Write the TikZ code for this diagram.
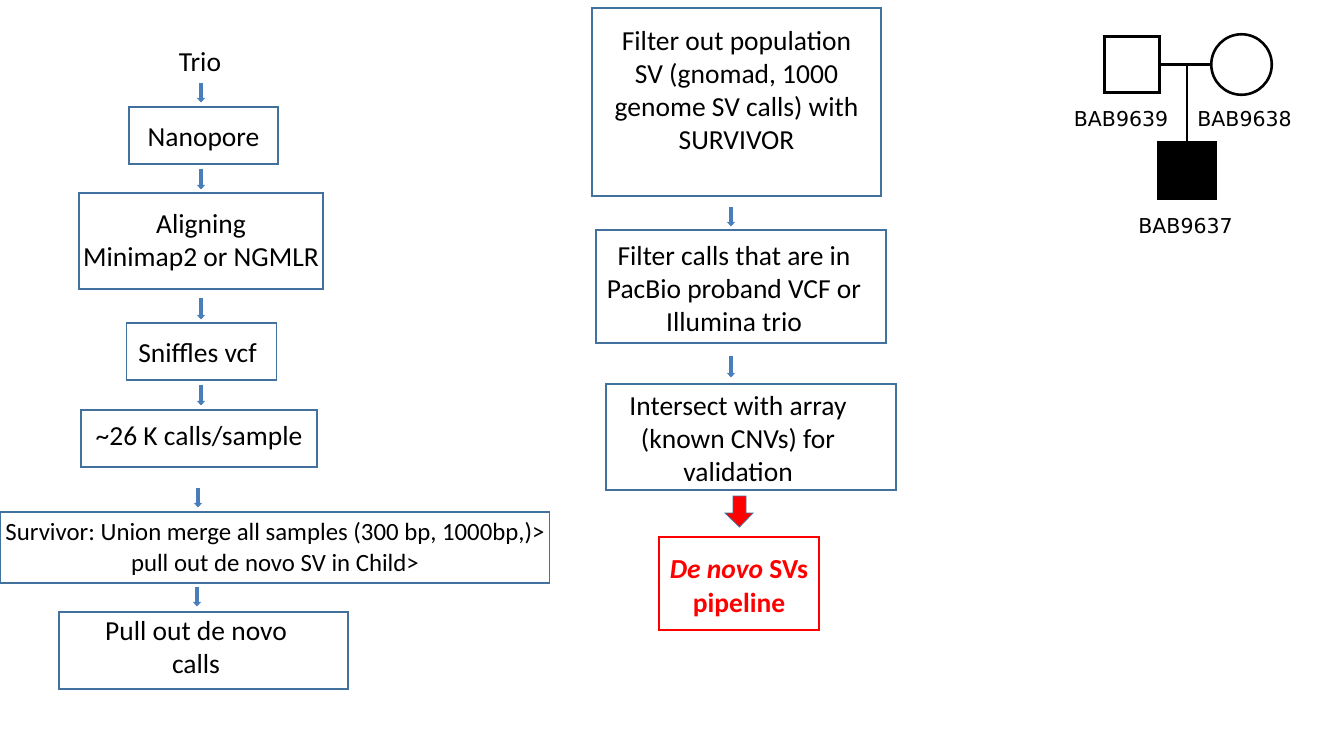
\documentclass[tikz,border=0pt]{standalone}
\usepackage{fontspec}
\setmainfont{Carlito}
\newfontfamily\pedfont{DejaVu Sans}
\usetikzlibrary{arrows.meta}
\definecolor{boxblue}{RGB}{65,113,156}
\definecolor{arrblue}{RGB}{74,126,187}
\definecolor{pptred}{RGB}{255,0,0}
\frenchspacing
% #1 right padding, #2 downward shift, #3 lines
\newcommand{\boxtext}[3]{\raisebox{-#2}[\height][\depth]{\begin{tabular}{@{}c@{\hspace{#1}}}#3\end{tabular}}}
\begin{document}
\begin{tikzpicture}[x=1pt,y=-1pt,
  box/.style={draw=boxblue, line width=1.1pt, align=center, inner sep=0pt,
    font=\fontsize{27.5}{33}\selectfont},
  plaintext/.style={align=center, inner sep=0pt, font=\fontsize{27.5}{33}\selectfont},
  flow/.style={draw=arrblue, line width=3.6pt, -{Triangle[width=8pt,length=4.5pt]}},
  redbox/.style={draw=pptred, line width=1.2pt, align=center, inner sep=0pt,
    text=pptred, font=\fontsize{27.5}{34}\selectfont\bfseries},
  pedline/.style={draw=black, line width=2.6pt},
  pedlab/.style={inner sep=0pt, font=\pedfont\fontsize{20.5}{24}\selectfont}
]
\useasboundingbox (0,0) rectangle (1333,750);

% x positions of the connectors
\coordinate (cL) at (201,0);
\coordinate (cK) at (198,0);
\coordinate (cS) at (197,0);
\coordinate (cM) at (731,0);

% left column
\node[plaintext] (trio) at (200,62) {Trio};
\node[box, minimum width=149, minimum height=57] (nano) at (203.5,135.5) {\boxtext{0pt}{4.75pt}{Nanopore}};
\node[box, minimum width=244, minimum height=96] (align) at (201,241) {\boxtext{0pt}{2.25pt}{Aligning\\Minimap2 or NGMLR}};
\node[box, minimum width=150, minimum height=57] (sniff) at (201.5,351.5) {\boxtext{8pt}{4.75pt}{Sniffles vcf}};
\node[box, minimum width=236, minimum height=57] (k26) at (199,438.5) {\boxtext{0pt}{0.75pt}{\textasciitilde26 K calls/sample}};
\node[box, minimum width=549, minimum height=71, font=\fontsize{24.8}{31}\selectfont] (surv) at (275,547.5) {\boxtext{0pt}{2.25pt}{Survivor: Union merge all samples (300 bp, 1000bp,)\textgreater\\pull out de novo SV in Child\textgreater}};
\node[box, minimum width=289, minimum height=77] (pull) at (203.5,650.5) {\boxtext{15pt}{0.25pt}{Pull out de novo\\calls}};

\draw[flow, shorten <=11pt, shorten >=4pt] (trio.south -| cL) -- (nano.north -| cL);
\draw[flow, shorten <=4pt, shorten >=3pt] (nano.south -| cL) -- (align.north -| cL);
\draw[flow, shorten <=8pt, shorten >=3pt] (align.south -| cL) -- (sniff.north -| cL);
\draw[flow, shorten <=4pt, shorten >=4pt] (sniff.south -| cL) -- (k26.north -| cL);
\draw[flow, shorten <=20pt, shorten >=4pt] (k26.south -| cK) -- (surv.north -| cK);
\draw[flow, shorten <=3pt, shorten >=5pt] (surv.south -| cS) -- (pull.north -| cS);

% middle column
\node[box, minimum width=289, minimum height=188] (filt1) at (736.5,102) {\boxtext{0pt}{-8.75pt}{Filter out population\\SV (gnomad, 1000\\genome SV calls) with\\SURVIVOR}};
\node[box, minimum width=290, minimum height=113] (filt2) at (741,286.5) {\boxtext{14pt}{5.5pt}{Filter calls that are in\\PacBio proband VCF or\\Illumina trio}};
\node[box, minimum width=290, minimum height=106] (inter) at (751,437) {\boxtext{26pt}{5.25pt}{Intersect with array\\(known CNVs) for\\validation}};
\node[redbox, minimum width=160, minimum height=93] (dn) at (739,583.5) {\boxtext{0pt}{4.75pt}{{\itshape De novo} SVs\\pipeline}};

\draw[flow, shorten <=10pt, shorten >=3pt] (filt1.south -| cM) -- (filt2.north -| cM);
\draw[flow, shorten <=12pt, shorten >=6pt] (filt2.south -| cM) -- (inter.north -| cM);

% red block arrow
\draw[fill=pptred, draw=boxblue, line width=0.8pt, line join=miter]
  (733,496) -- (746,496) -- (746,513) -- (753,513) -- (739.5,527) -- (725,513) -- (733,513) -- cycle;

% pedigree
\node[pedline, minimum size=55.5, inner sep=0pt] (father) at (1132,64.5) {};
\node[pedline, circle, minimum size=60.5, inner sep=0pt] (mother) at (1241.5,64.5) {};
\node[pedline, fill=black, minimum size=57, inner sep=0pt] (child) at (1187,170.5) {};
\draw[pedline] (father.east) -- (mother.west);
\draw[pedline] (child.north |- father.east) -- (child.north);
\node[pedlab] (l9639) at (1121,119.5) {BAB9639};
\node[pedlab] (l9638) at (1244.5,119.5) {BAB9638};
\node[pedlab] (l9637) at (1185.5,226) {BAB9637};
\end{tikzpicture}
\end{document}
